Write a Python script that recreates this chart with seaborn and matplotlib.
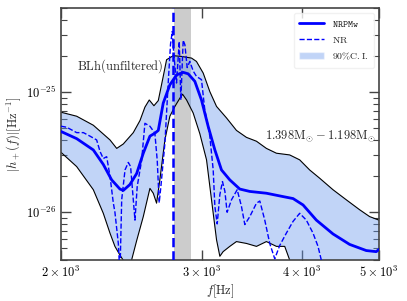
import numpy as np
import pandas as pd
import matplotlib
matplotlib.use('Agg')
import matplotlib.pyplot as plt
import seaborn as sns
from matplotlib.ticker import FixedLocator, NullLocator, LogLocator, NullFormatter

# amplitudes in units of 1e-26 Hz^-1
upper_f = [2000, 2092, 2195, 2303, 2348, 2393, 2463, 2511, 2547, 2579, 2614, 2647, 2685, 2711,
           2764, 2831, 2913, 2955, 3013, 3071, 3131, 3222, 3316, 3413, 3513, 3615, 3721, 3866,
           3979, 4095, 4215, 4380, 4551, 4729, 4868, 5000]
upper_h = [6.8, 6.3, 5.3, 4.0, 3.4, 3.7, 4.6, 5.8, 7.5, 8.6, 7.7, 8.5, 13.5, 18.6,
           20.1, 19.8, 19.2, 18.0, 14.4, 10.1, 7.6, 6.1, 4.8, 4.2, 3.9, 3.4, 3.1, 3.0,
           2.73, 2.25, 1.92, 1.54, 1.27, 1.05, 0.92, 0.86]

lower_f = [2000, 2092, 2195, 2259, 2303, 2336, 2370, 2416, 2451, 2487, 2535, 2584, 2609, 2634,
           2659, 2698, 2737, 2777, 2817, 2839, 2872, 2927, 2984, 3042, 3086, 3131, 3161, 3191,
           3253, 3316, 3413, 3513, 3615, 3721, 3811, 3866, 3904, 5000]
lower_h = [3.15, 2.4, 1.54, 0.98, 0.67, 0.52, 0.44, 0.36, 0.40, 0.58, 0.92, 1.58, 1.44, 1.19,
           1.86, 4.0, 6.3, 7.6, 8.9, 9.6, 8.6, 6.7, 4.5, 2.73, 1.27, 0.59, 0.43, 0.47,
           0.52, 0.57, 0.55, 0.52, 0.57, 0.52, 0.52, 0.40, 0.30, 0.30]

nrpm_f = [2000, 2092, 2195, 2259, 2314, 2370, 2393, 2439, 2487, 2535, 2584, 2621, 2647, 2685,
          2737, 2790, 2844, 2885, 2941, 2998, 3056, 3116, 3176, 3253, 3348, 3446, 3615, 3793,
          3904, 4018, 4175, 4380, 4595, 4821, 4962, 5000]
nrpm_h = [4.7, 4.1, 3.3, 2.5, 1.86, 1.56, 1.52, 1.7, 2.1, 3.1, 4.3, 4.55, 4.8, 8.1,
          11.5, 13.9, 14.6, 14.2, 12.3, 8.6, 5.2, 3.3, 2.25, 1.86, 1.56, 1.49, 1.44, 1.35,
          1.30, 1.15, 0.86, 0.66, 0.54, 0.48, 0.47, 0.49]

nr_f = [2000, 2033, 2092, 2133, 2174, 2216, 2238, 2259, 2281, 2303, 2325, 2336, 2359, 2370,
        2382, 2405, 2428, 2444, 2463, 2475, 2491, 2523, 2547, 2584, 2621, 2639, 2654, 2667,
        2698, 2724, 2742, 2756, 2769, 2790, 2812, 2825, 2844, 2858, 2877, 2899, 2927, 2955,
        2998, 3027, 3056, 3071, 3101, 3116, 3137, 3161, 3185, 3207, 3228, 3269, 3323, 3364,
        3397, 3446, 3513, 3547, 3598, 3650, 3703, 3757, 3829, 3904, 3979, 4056, 4135, 4195,
        4235, 4276]
nr_h = [5.2, 5.1, 4.6, 4.6, 4.3, 4.0, 3.2, 2.8, 2.9, 2.0, 1.2, 1.0, 0.55, 0.3,
        1.27, 2.25, 2.6, 2.4, 1.27, 0.86, 1.64, 2.7, 5.5, 5.2, 4.55, 2.7, 1.2, 1.64,
        3.75, 12.0, 25.0, 32.0, 20.0, 11.9, 26.4, 8.6, 27.0, 24.8, 16.0, 18.0, 15.0, 13.5,
        12.7, 7.1, 5.2, 4.3, 2.25, 1.12, 0.8, 1.4, 1.8, 1.5, 1.0, 1.27, 1.54, 1.12,
        0.79, 0.92, 1.19, 1.24, 0.86, 0.55, 0.41, 0.53, 0.67, 0.84, 0.98, 0.86, 0.67, 0.52,
        0.40, 0.30]

f_merger = 2759
band_lo, band_hi = 2768, 2905

sns.set_style('ticks')
plt.rcParams['mathtext.fontset'] = 'cm'
plt.rcParams['font.family'] = ['DejaVu Serif']

scale = 1e-26
fig = plt.figure(figsize=(4.07, 3.01), dpi=100)
ax = fig.add_axes([0.150, 0.136, 0.781, 0.837])

# 90% band as a polygon between upper and lower bounds
poly_f = np.concatenate([upper_f, lower_f[::-1]])
poly_h = np.concatenate([upper_h, lower_h[::-1]]) * scale
ax.axvspan(band_lo, band_hi, color='gray', alpha=0.4, lw=0, zorder=0)
ax.fill(poly_f, poly_h, color='cornflowerblue', alpha=0.4, lw=0, zorder=1)

sns.lineplot(x=upper_f, y=np.array(upper_h) * scale, color='black', lw=0.8, ax=ax, zorder=2)
sns.lineplot(x=lower_f, y=np.array(lower_h) * scale, color='black', lw=0.8, ax=ax, zorder=2)
sns.lineplot(x=nr_f, y=np.array(nr_h) * scale, color='blue', lw=1.0, ls='--', ax=ax, zorder=3)
sns.lineplot(x=nrpm_f, y=np.array(nrpm_h) * scale, color='blue', lw=2.0, ax=ax, zorder=4)
ax.axvline(f_merger, color='blue', ls='--', lw=1.8, zorder=4)

ax.set_xscale('log')
ax.set_yscale('log')
ax.set_xlim(2000, 5000)
ax.set_ylim(4.0e-27, 5.0e-25)

ax.xaxis.set_major_locator(FixedLocator([2000, 3000, 4000, 5000]))
ax.set_xticklabels([r'$2\times10^{3}$', r'$3\times10^{3}$', r'$4\times10^{3}$', r'$5\times10^{3}$'])
ax.xaxis.set_minor_locator(NullLocator())
ax.yaxis.set_major_locator(FixedLocator([1e-26, 1e-25]))
ax.set_yticklabels([r'$10^{-26}$', r'$10^{-25}$'])
ax.yaxis.set_minor_locator(LogLocator(base=10, subs=np.arange(2, 10)))
ax.yaxis.set_minor_formatter(NullFormatter())

ax.tick_params(which='both', direction='in', top=True, right=True, colors='#444444', labelcolor='black',
               labelsize=9)
ax.tick_params(which='major', length=7, width=1.0)
ax.tick_params(which='minor', length=4.5, width=0.8)
for sp in ax.spines.values():
    sp.set_color('#444444')
    sp.set_linewidth(1.2)

ax.set_xlabel(r'$f[\mathrm{Hz}]$', fontsize=9, labelpad=2)
ax.set_ylabel(r'$|h_+(f)|[\mathrm{Hz}^{-1}]$', fontsize=9, labelpad=2)

ax.text(2370, 1.64e-25, r'$\mathrm{BLh(unfiltered)}$', fontsize=9, ha='center', va='center')
ax.text(4960, 4.3e-26, r'$1.398\mathrm{M}_{\odot}-1.198\mathrm{M}_{\odot}$', fontsize=9,
        ha='right', va='center')

from matplotlib.lines import Line2D
from matplotlib.patches import Patch
handles = [Line2D([], [], color='blue', lw=2.0),
           Line2D([], [], color='blue', lw=1.0, ls='--'),
           Patch(facecolor='cornflowerblue', alpha=0.4)]
labels = [r'$\mathtt{NRPMw}$', r'$\mathrm{NR}$', r'$\mathrm{90\%C.I.}$']
ax.legend(handles, labels, loc='upper right', fontsize=7, frameon=True, framealpha=0.8,
          edgecolor='#eeeeee', fancybox=True, handlelength=2.5, borderpad=0.6, labelspacing=0.6)

plt.savefig('out.png', dpi=100)
